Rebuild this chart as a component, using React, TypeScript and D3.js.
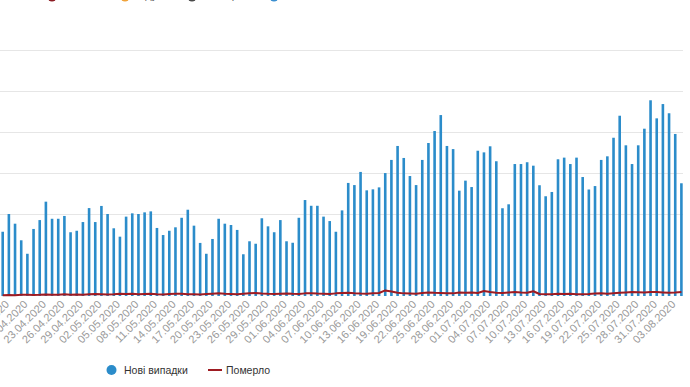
import React from "react";
import * as d3 from "d3";

const START_DATE = "2020-04-16";
const END_DATE = "2020-08-04";

const newCases = [
  391, 499, 440, 339, 257, 408, 462, 574, 470, 470, 487, 388, 397, 450, 535,
  450, 548, 499, 412, 361, 483, 503, 499, 509, 515, 414, 371, 397, 418, 476, 525,
  428, 323, 257, 347, 470, 440, 432, 402, 254, 333, 318, 473, 424, 388, 462,
  333, 324, 476, 584, 549, 549, 483, 456, 391, 521, 688, 675, 755, 643, 649,
  661, 748, 828, 913, 840, 730, 675, 828, 931, 1004, 1101, 913, 894, 641, 702,
  663, 884, 874, 911, 820, 534, 558, 803, 803, 814, 793, 674, 607, 633, 832,
  842, 803, 842, 724, 648, 669, 828, 850, 963, 1097, 917, 803, 917, 1018, 1191,
  1081, 1168, 1112, 986, 686,
];

const deaths = [
  5, 6, 5, 7, 8, 6, 7, 9, 8, 8, 10, 7, 9, 8, 10,
  12, 11, 9, 10, 13, 12, 14, 11, 12, 13, 10, 9, 12, 14, 13, 11, 10, 9, 12, 14, 16, 13, 12, 10, 14, 16, 18, 15, 13, 12, 14,
  15, 13, 12, 16, 17, 15, 14, 12, 16, 18, 20, 17, 15, 14, 16, 18, 34, 27, 20, 16, 15, 14, 18, 22, 20, 19, 17, 16, 21, 20,
  22, 18, 30, 24, 20, 18, 22, 24, 21, 20, 29, 12, 10, 11, 13, 12, 14, 11, 10, 12, 15, 16, 14, 17, 20, 22, 24, 23, 21, 25, 24,
  22, 20, 21, 24,
];

const yTicks = [500, 750, 1000, 1250, 1500];

const topLegend = [
  { label: "Активні", color: "#8c1c24", x: 52 },
  { label: "Одужали", color: "#f0a33a", x: 125 },
  { label: "Померло", color: "#4a4a4a", x: 192 },
  { label: "Усього", color: "#3b8fd0", x: 274 },
];

const BAR_COLOR = "#2b8cca";
const LINE_COLOR = "#9e1b22";

export default function App() {
  const W = 690;
  const H = 387;
  const parse = d3.utcParse("%Y-%m-%d");
  const fmt = d3.utcFormat("%d.%m.%Y");
  const dates = d3.utcDay.range(parse(START_DATE)!, d3.utcDay.offset(parse(END_DATE)!, 1));
  const keys = dates.map((d) => fmt(d));

  const step = 6.17;
  const x = d3
    .scaleBand<string>()
    .domain(keys)
    .range([2.7 - step / 2, 2.7 - step / 2 + step * keys.length])
    .padding(0);
  const bw = 2.6;
  const cx = (k: string) => (x(k) as number) + x.bandwidth() / 2;

  const y = d3.scaleLinear().domain([0, 1500]).range([296, 49.5]);

  const line = d3
    .line<number>()
    .x((_, i) => cx(keys[i]))
    .y((d) => y(d));

  const labelKeys = keys.filter((_, i) => i % 3 === 1);

  return (
    <svg
      width={W}
      height={H}
      style={{ position: "absolute", left: 0, top: 0, background: "#fff" }}
      fontFamily="'Liberation Sans', Arial, sans-serif"
    >
      {topLegend.map((l) => (
        <g key={l.label}>
          <circle cx={l.x} cy={-3} r={4.5} fill={l.color} />
          <text x={l.x + 12} y={-1} fontSize={11} fill="#666">
            {l.label}
          </text>
        </g>
      ))}
      {yTicks.map((t) => (
        <line key={t} x1={0} x2={683} y1={Math.round(y(t)) + 0.5} y2={Math.round(y(t)) + 0.5} stroke="#e6e6e6" strokeWidth={1} />
      ))}
      {newCases.map((v, i) => (
        <rect
          key={keys[i]}
          x={cx(keys[i]) - bw / 2}
          y={y(v)}
          width={bw}
          height={y(0) - y(v)}
          fill={BAR_COLOR}
        />
      ))}
      <path d={line(deaths) || ""} fill="none" stroke={LINE_COLOR} strokeWidth={2} strokeLinejoin="round" />
      {labelKeys.map((k) => (
        <text
          key={k}
          transform={`translate(${cx(k) + 1},${305}) rotate(-45)`}
          textAnchor="end"
          fontSize={11}
          fill="#999"
        >
          {k}
        </text>
      ))}
      <g>
        <circle cx={111.5} cy={370} r={5} fill={BAR_COLOR} />
        <text x={124} y={374} fontSize={10.5} fill="#333">
          Нові випадки
        </text>
        <line x1={208} x2={222} y1={370} y2={370} stroke={LINE_COLOR} strokeWidth={2} />
        <text x={226} y={374} fontSize={10.5} fill="#333">
          Померло
        </text>
      </g>
    </svg>
  );
}
